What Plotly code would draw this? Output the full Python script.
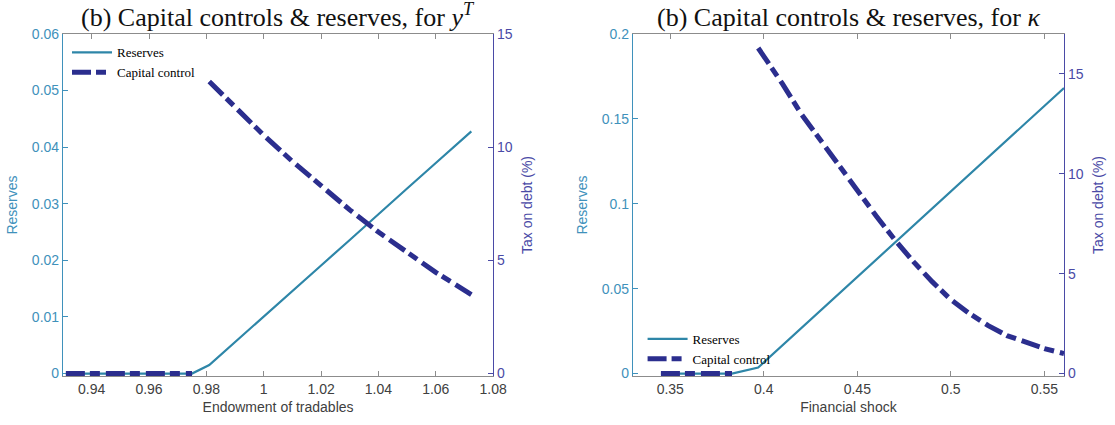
import plotly.graph_objects as go

# ---------------- data ----------------
# Panel 1: endowment of tradables y^T
yT = [0.931, 0.940, 0.949, 0.958, 0.967, 0.975, 0.981, 0.990, 1.000, 1.010,
      1.020, 1.030, 1.040, 1.050, 1.060, 1.0724]
res_yT = [0, 0, 0, 0, 0, 0, 0.0015, 0.0056, 0.0101, 0.0146,
          0.0191, 0.0236, 0.0282, 0.0327, 0.0372, 0.0428]
tax_yT_x = [0.931, 0.940, 0.949, 0.958, 0.967, 0.975, None, 0.981, 0.990, 1.000,
            1.010, 1.020, 1.030, 1.040, 1.050, 1.060, 1.0724]
tax_yT = [0, 0, 0, 0, 0, 0, None, 12.9, 11.75, 10.53,
          9.37, 8.27, 7.23, 6.25, 5.33, 4.47, 3.49]

# Panel 2: financial shock kappa
kap = [0.345, 0.355, 0.365, 0.375, 0.383, 0.397, 0.41, 0.42, 0.43, 0.44, 0.45,
       0.46, 0.47, 0.48, 0.49, 0.50, 0.51, 0.52, 0.53, 0.54, 0.55, 0.5605]
res_kap = [0, 0, 0, 0, 0, 0.0035, 0.0166, 0.0267, 0.0368, 0.0468, 0.0569,
           0.0670, 0.0770, 0.0871, 0.0972, 0.1072, 0.1173, 0.1274, 0.1374,
           0.1475, 0.1576, 0.1682]
tax_kap_x = [0.345, 0.355, 0.365, 0.375, 0.383, None, 0.397, 0.41, 0.42, 0.43,
             0.44, 0.45, 0.46, 0.47, 0.48, 0.49, 0.50, 0.51, 0.52, 0.53, 0.54,
             0.55, 0.5605]
tax_kap = [0, 0, 0, 0, 0, None, 16.3, 14.5, 13.0, 11.7, 10.4, 9.1, 7.9, 6.7,
           5.6, 4.6, 3.7, 3.0, 2.4, 1.9, 1.55, 1.25, 1.0]

x1_ticks = [0.94, 0.96, 0.98, 1.00, 1.02, 1.04, 1.06, 1.08]
x1_labels = ["0.94", "0.96", "0.98", "1", "1.02", "1.04", "1.06", "1.08"]
y1_ticks = [0, 0.01, 0.02, 0.03, 0.04, 0.05, 0.06]
y1_labels = ["0", "0.01", "0.02", "0.03", "0.04", "0.05", "0.06"]
x2_ticks = [0.35, 0.40, 0.45, 0.50, 0.55]
x2_labels = ["0.35", "0.4", "0.45", "0.5", "0.55"]
y3_ticks = [0, 0.05, 0.10, 0.15, 0.20]
y3_labels = ["0", "0.05", "0.1", "0.15", "0.2"]
tax_ticks = [0, 5, 10, 15]
tax_labels = ["0", "5", "10", "15"]

titles = ["(b) Capital controls & reserves, for <i>y</i><sup><i>T</i></sup>",
          "(b) Capital controls & reserves, for <i>κ</i>"]

# ---------------- styles ----------------
TEAL = "#2e86a8"
TEAL_AX = "#3f91bb"
NAVY = "#2b2e8e"
NAVY_AX = "#4a4aa6"
GRAY = "#8c8c8c"
TXT = "#404040"
DASH = "19px,5px,10px,6px"
SANS = "Liberation Sans, Arial, sans-serif"
SERIF = "Liberation Serif, Times New Roman, serif"

fig = go.Figure()

fig.add_trace(go.Scatter(x=yT, y=res_yT, mode="lines", name="Reserves",
                         line=dict(color=TEAL, width=2.2), xaxis="x", yaxis="y",
                         legend="legend"))
fig.add_trace(go.Scatter(x=tax_yT_x, y=tax_yT, mode="lines", name="Capital control",
                         line=dict(color=NAVY, width=5, dash=DASH), xaxis="x", yaxis="y2",
                         legend="legend", connectgaps=False))
fig.add_trace(go.Scatter(x=kap, y=res_kap, mode="lines", name="Reserves",
                         line=dict(color=TEAL, width=2.2), xaxis="x2", yaxis="y3",
                         legend="legend2"))
fig.add_trace(go.Scatter(x=tax_kap_x, y=tax_kap, mode="lines", name="Capital control",
                         line=dict(color=NAVY, width=5, dash=DASH), xaxis="x2", yaxis="y4",
                         legend="legend2", connectgaps=False))

PLOT_H = 344.0
pad = 2.5 / PLOT_H  # fraction so a thick line at 0 is not clipped


def xax(domain, rng, ticks, labels, title, anchor):
    return dict(domain=domain, range=rng, tickvals=ticks, ticktext=labels,
                ticks="inside", ticklen=5, tickcolor=GRAY, showline=True,
                linecolor=GRAY, linewidth=1.2, mirror="ticks", showgrid=False,
                zeroline=False, anchor=anchor, layer="below traces",
                tickfont=dict(family=SANS, size=14, color=TXT),
                title=dict(text=title, font=dict(family=SANS, size=14, color=TXT),
                           standoff=6))


def yax(rng, ticks, labels, title, color, anchor, side="left", overlaying=None):
    span = rng[1] - rng[0]
    d = dict(range=[rng[0] - span * pad, rng[1]], tickvals=ticks, ticktext=labels,
             ticks="inside", ticklen=5, tickcolor=color, showline=True,
             linecolor=color, linewidth=1.2, showgrid=False, zeroline=False,
             anchor=anchor, side=side, layer="below traces",
             tickfont=dict(family=SANS, size=14, color=color),
             title=dict(text=title, font=dict(family=SANS, size=14, color=color),
                        standoff=10))
    if overlaying:
        d["overlaying"] = overlaying
    return d


fig.update_layout(
    width=1115, height=425,
    margin=dict(l=58, r=47, t=34, b=47),
    plot_bgcolor="white", paper_bgcolor="white",
    xaxis=xax([0, 0.4297], [0.93, 1.08], x1_ticks, x1_labels,
              "Endowment of tradables", "y"),
    xaxis2=xax([0.5693, 1.0], [0.33, 0.5605], x2_ticks, x2_labels,
               "Financial shock", "y3"),
    yaxis=yax([0, 0.06], y1_ticks, y1_labels, "Reserves", TEAL_AX, "x"),
    yaxis2=yax([0, 15], tax_ticks, tax_labels, "Tax on debt (%)", NAVY_AX, "x",
               side="right", overlaying="y"),
    yaxis3=yax([0, 0.2], y3_ticks, y3_labels, "Reserves", TEAL_AX, "x2"),
    yaxis4=yax([0, 17], tax_ticks, tax_labels, "Tax on debt (%)", NAVY_AX, "x2",
               side="right", overlaying="y3"),
    legend=dict(x=0.004, y=0.99, xanchor="left", yanchor="top",
                bgcolor="rgba(0,0,0,0)", borderwidth=0, itemwidth=40,
                font=dict(family=SERIF, size=13, color="#000"),
                tracegroupgap=0),
    legend2=dict(x=0.579, y=0.152, xanchor="left", yanchor="top",
                 bgcolor="rgba(0,0,0,0)", borderwidth=0, itemwidth=40,
                 font=dict(family=SERIF, size=13, color="#000"),
                 tracegroupgap=0),
    showlegend=True,
    annotations=[
        dict(text=titles[0], x=0.4297 / 2, y=1.0, xref="paper", yref="paper",
             xanchor="center", yanchor="bottom", yshift=0, showarrow=False,
             font=dict(family=SERIF, size=26, color="#111")),
        dict(text=titles[1], x=(0.5693 + 1.0) / 2, y=1.0, xref="paper", yref="paper",
             xanchor="center", yanchor="bottom", yshift=0, showarrow=False,
             font=dict(family=SERIF, size=26, color="#111")),
    ],
)

fig.write_html("out.html")
